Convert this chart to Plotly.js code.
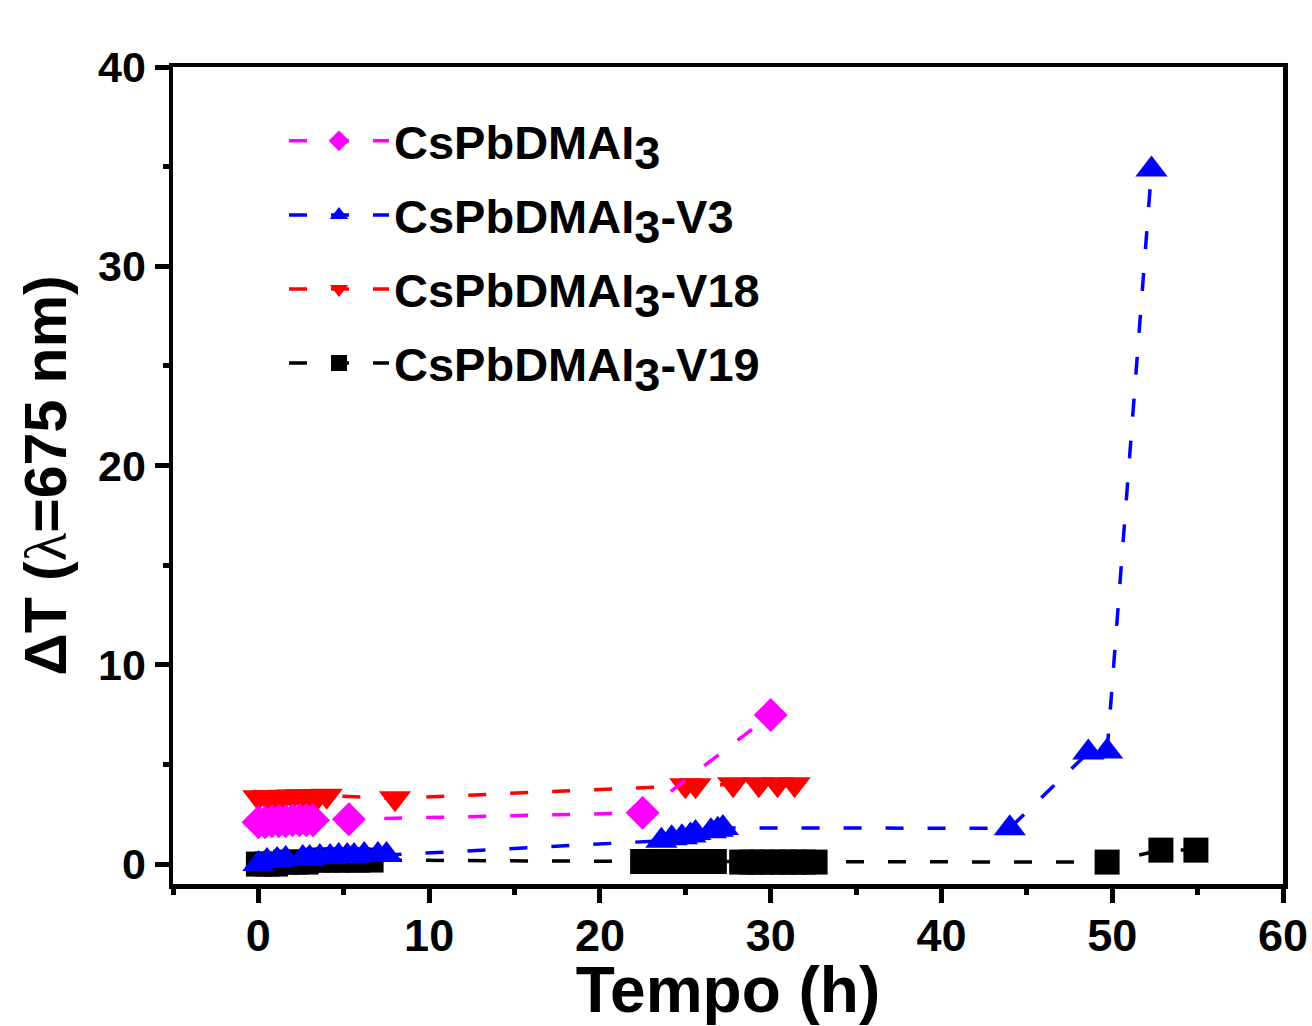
<!DOCTYPE html>
<html>
<head>
<meta charset="utf-8">
<script src="https://cdn.plot.ly/plotly-3.0.1.min.js"></script>
<style>html,body{margin:0;padding:0;background:#fff;}#chart{width:1312px;height:1026px;}</style>
</head>
<body>
<div id="chart"></div>
<script>
// Series names
const names = ["CsPbDMAI3", "CsPbDMAI3-V3", "CsPbDMAI3-V18", "CsPbDMAI3-V19"];

// CsPbDMAI3 (magenta diamonds)
const x_base = [0, 0.4, 0.8, 1.2, 1.6, 2.0, 2.4, 2.8, 3.2, 5.3, 22.5, 30.0];
const y_base = [2.1, 2.1, 2.15, 2.15, 2.15, 2.2, 2.2, 2.2, 2.2, 2.25, 2.57, 7.48];

// CsPbDMAI3-V3 (blue up-triangles)
const x_v3 = [0, 0.5, 1.1, 1.6, 2.6, 3.0, 3.6, 4.2, 4.7, 5.2, 5.6, 6.2, 7.0, 7.5,
              23.6, 24.2, 24.8, 25.3, 25.6, 26.5, 26.9, 27.2, 44.0, 48.6, 49.7, 52.3];
const y_v3 = [0, 0.15, 0.2, 0.25, 0.3, 0.3, 0.35, 0.35, 0.4, 0.4, 0.4, 0.45, 0.45, 0.45,
              1.17, 1.3, 1.34, 1.44, 1.56, 1.65, 1.72, 1.81, 1.8, 5.6, 5.65, 34.85];

// CsPbDMAI3-V18 (red down-triangles)
const x_v18 = [0, 0.5, 1, 1.5, 2, 2.5, 3, 3.5, 4, 8, 25.0, 25.6, 27.8, 29.3, 30.4, 31.4];
const y_v18 = [3.35, 3.36, 3.37, 3.38, 3.39, 3.4, 3.41, 3.42, 3.43, 3.3, 3.95, 3.95, 4.0, 4.0, 4.0, 4.0];

// CsPbDMAI3-V19 (black squares)
const x_v19 = [0, 0.5, 1.0, 1.6, 2.2, 2.8, 3.5, 4.0, 4.6, 5.2, 5.8, 6.6,
               22.5, 23.1, 23.7, 24.3, 24.9, 25.5, 26.1, 26.7,
               28.3, 28.9, 29.5, 30.1, 30.7, 31.3, 31.9, 32.6,
               49.7, 52.85, 54.9];
const y_v19 = [0, 0, 0, 0.1, 0.1, 0.1, 0.2, 0.2, 0.2, 0.2, 0.2, 0.2,
               0.13, 0.13, 0.13, 0.13, 0.13, 0.13, 0.13, 0.13,
               0.1, 0.1, 0.1, 0.1, 0.1, 0.1, 0.1, 0.1,
               0.1, 0.7, 0.7];

// Axis ticks
const xTicks = [0, 10, 20, 30, 40, 50, 60];
const yTicks = [0, 10, 20, 30, 40];

function label(n) {
  // render "I3" with a full-size lowered 3
  return n.replace("I3", 'I<sub><span style="font-size:47px">3</span></sub>');
}

const dash = "18px,24px";
function tr(x, y, name, color, symbol, size, group, rank) {
  return {
    x: x, y: y, name: label(name), type: "scatter", mode: "lines+markers",
    legendgroup: group, legendrank: rank,
    line: {color: color, width: 3.5, dash: dash},
    marker: {color: color, symbol: symbol, size: size, line: {width: 0}}
  };
}

// drawing order: black, red, blue, magenta; legend ranks put magenta first
const data = [
  tr(x_v19, y_v19, names[3], "#000000", "square", 25, "d", 4),
  tr(x_v18, y_v18, names[2], "#ff0000", "triangle-down", 28, "c", 3),
  tr(x_v3, y_v3, names[1], "#0000ff", "triangle-up", 28, "b", 2),
  tr(x_base, y_base, names[0], "#ff00ff", "diamond", 26, "a", 1)
];

const fontFam = "Liberation Sans, Arial, sans-serif";
const axisCommon = {
  showgrid: false, zeroline: false,
  showline: true, linecolor: "#000", linewidth: 4.5, mirror: true,
  ticks: "outside", ticklen: 14, tickwidth: 5, tickcolor: "#000",
  tickfont: {family: fontFam, size: 45, color: "#000", weight: "bold"},
  minor: {ticks: "outside", ticklen: 6, tickwidth: 5, tickcolor: "#000", dtick: 5, tick0: 0, showgrid: false}
};

const layout = {
  width: 1312, height: 1026,
  paper_bgcolor: "#fff", plot_bgcolor: "#fff",
  margin: {l: 173, r: 29, t: 67, b: 142},
  showlegend: true,
  legend: {
    x: 0.1, y: 0.955, xanchor: "left", yanchor: "top",
    traceorder: "grouped", tracegroupgap: 10,
    itemwidth: 100,
    font: {family: fontFam, size: 47, color: "#000", weight: "bold"},
    bgcolor: "rgba(0,0,0,0)", borderwidth: 0
  },
  xaxis: Object.assign({}, axisCommon, {
    range: [-5, 60], tickvals: xTicks, ticktext: xTicks.map(String),
    ticklabelstandoff: -6,
    title: {text: "Tempo (h)", font: {family: fontFam, size: 64, color: "#000", weight: "bold"}, standoff: 10}
  }),
  yaxis: Object.assign({}, axisCommon, {
    range: [-1, 40], tickvals: yTicks, ticktext: yTicks.map(String),
    tickfont: {family: fontFam, size: 43, color: "#000", weight: "bold"},
    title: {text: 'ΔT (<span style="font-weight:normal;font-family:Liberation Serif">λ</span>=675 nm)',
            font: {family: fontFam, size: 59, color: "#000", weight: "bold"}, standoff: 14}
  })
};

Plotly.newPlot("chart", data, layout, {displayModeBar: false, staticPlot: true});
</script>
</body>
</html>
